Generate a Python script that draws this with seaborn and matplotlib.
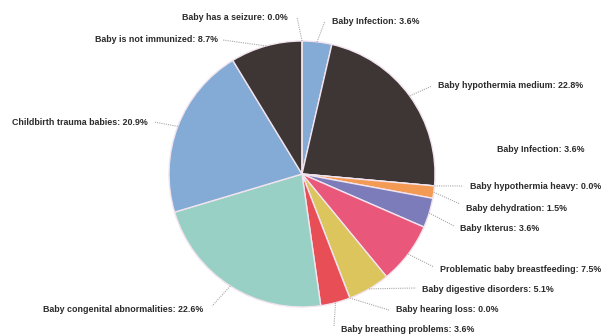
import matplotlib
matplotlib.use("Agg")
import matplotlib.pyplot as plt
import seaborn as sns

categories = ["Baby Infection", "Baby hypothermia medium", "Baby hypothermia heavy",
              "Baby dehydration", "Baby Ikterus", "Problematic baby breastfeeding",
              "Baby digestive disorders", "Baby hearing loss", "Baby breathing problems",
              "Baby congenital abnormalities", "Childbirth trauma babies",
              "Baby is not immunized", "Baby has a seizure"]
values = [3.6, 22.8, 0.0, 1.5, 3.6, 7.5, 5.1, 0.0, 3.6, 22.6, 20.9, 8.7, 0.0]
# label shown without a visible slice in the original
extra_names = ["Baby Infection"]
extra_values = [3.6]

colors = ["#84aad6", "#3e3535", "#f39a55", "#f39a55", "#7c7cba", "#e9587b",
          "#dcc55c", "#e84e55", "#e84e55", "#99d0c5", "#84aad6", "#3e3535", "#3e3535"]

sns.set_theme(style="white")
plt.rcParams['font.family'] = ['Liberation Sans', 'DejaVu Sans']

W, H = 609, 336
CX, CY, R = 302, 174, 133

fig = plt.figure(figsize=(W / 100, H / 100), dpi=100)
ax = fig.add_axes([0, 0, 1, 1])


def px(x, y):
    return ((x - CX) / R, (CY - y) / R)


wedges, _ = ax.pie(values, colors=colors, startangle=90, counterclock=False,
                   radius=1.0, center=(0, 0),
                   wedgeprops=dict(edgecolor="#f2e4ee", linewidth=1.0))
ax.set_xlim(-CX / R, (W - CX) / R)
ax.set_ylim((CY - H) / R, CY / R)
ax.set_aspect("auto")
ax.axis("off")

# layout: (text x, text y, ha, leader end x, leader end y) in pixels
layout = [
    (332, 22, "left", 325, 21),
    (438, 86, "left", 432, 86),
    (470, 187, "left", 463, 186),
    (466, 209, "left", 460, 204),
    (460, 229, "left", 454, 226),
    (440, 270, "left", 434, 267),
    (422, 290, "left", 416, 288),
    (396, 310, "left", 389, 310),
    (341, 330, "left", 334, 326),
    (203, 310, "right", 212, 306),
    (148, 123, "right", 154, 122),
    (218, 40, "right", 223, 40),
    (288, 18, "right", 297, 17),
]

import math
tcolor = "#2b2b2b"
fs = 6.4
for w, name, val, (tx, ty, ha, lx, ly) in zip(wedges, categories, values, layout):
    ang = math.radians((w.theta1 + w.theta2) / 2)
    sx, sy = math.cos(ang) * 1.0, math.sin(ang) * 1.0
    ex, ey = px(lx, ly)
    ax.plot([sx, ex], [sy, ey], color="#a8a8a8", linestyle=(0, (1, 1)), linewidth=0.8)
    x, y = px(tx, ty)
    ax.text(x, y, f"{name}: {val:.1f}%", ha=ha, va="center", fontsize=fs,
            fontweight="bold", color=tcolor)

for name, val in zip(extra_names, extra_values):
    x, y = px(497, 150)
    ax.text(x, y, f"{name}: {val:.1f}%", ha="left", va="center", fontsize=fs,
            fontweight="bold", color=tcolor)

fig.savefig("out.png", dpi=100, facecolor="white")
